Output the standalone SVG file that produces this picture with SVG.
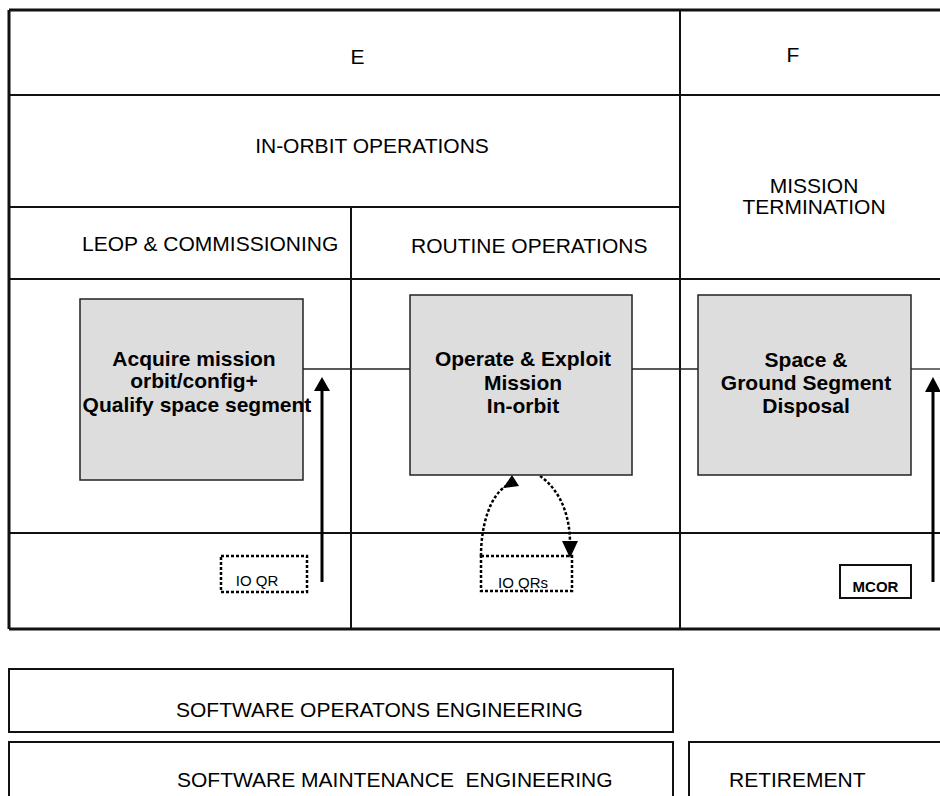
<svg xmlns="http://www.w3.org/2000/svg" width="940" height="796" viewBox="0 0 940 796">
<style>
text{font-family:"Liberation Sans",Arial,sans-serif;fill:#000}
.t{font-size:21px}
.b{font-size:21px;font-weight:bold;text-anchor:middle}
.s{font-size:15px}
.grid{stroke:#111;stroke-width:2;fill:none}
.outer{stroke:#111;stroke-width:3;fill:none}
.box{fill:#dddddd;stroke:#222;stroke-width:1.5}
.conn{stroke:#222;stroke-width:1.3;fill:none}
.arr{stroke:#000;stroke-width:3;fill:none}
.dot{stroke:#000;stroke-width:2.5;fill:none;stroke-dasharray:3 2}
.lane{fill:#fff;stroke:#111;stroke-width:2}
</style>
<rect width="940" height="796" fill="#fff"/>
<g id="table">
<line class="outer" x1="9" y1="10" x2="940" y2="10"/>
<line class="outer" x1="9" y1="10" x2="9" y2="629"/>
<line class="outer" x1="9" y1="629" x2="940" y2="629"/>
<line class="grid" x1="9" y1="95" x2="940" y2="95"/>
<line class="grid" x1="9" y1="207" x2="680" y2="207"/>
<line class="grid" x1="9" y1="279" x2="940" y2="279"/>
<line class="grid" x1="9" y1="533" x2="940" y2="533"/>
<line class="grid" x1="680" y1="10" x2="680" y2="629"/>
<line class="grid" x1="351" y1="207" x2="351" y2="629"/>
<text class="t" x="357.5" y="64" text-anchor="middle">E</text>
<text class="t" x="793" y="62" text-anchor="middle">F</text>
<text class="t" x="372" y="153" text-anchor="middle">IN-ORBIT OPERATIONS</text>
<text class="t" x="814" y="193" text-anchor="middle">MISSION</text>
<text class="t" x="814" y="214" text-anchor="middle">TERMINATION</text>
<text class="t" x="82" y="251">LEOP &amp; COMMISSIONING</text>
<text class="t" x="411" y="253">ROUTINE OPERATIONS</text>
</g>
<g id="connectors">
<line class="conn" x1="303" y1="369" x2="410" y2="369"/>
<line class="conn" x1="632" y1="369" x2="698" y2="369"/>
<line class="conn" x1="911" y1="369" x2="940" y2="369"/>
<line class="arr" x1="322" y1="582" x2="322" y2="390"/>
<path d="M322,377 L314,391 L330,391 Z" fill="#000"/>
<line class="arr" x1="933" y1="582" x2="933" y2="390"/>
<path d="M933,377 L925,392 L941,392 Z" fill="#000"/>
<path class="dot" d="M481,556 C481,525 490,496 506,486"/>
<path d="M512,475 L503,488 L519,486 Z" fill="#000"/>
<path class="dot" d="M540,476 C560,490 570,515 570,543"/>
<path d="M570,558 L562,541 L578,541 Z" fill="#000"/>
</g>
<g id="node-acquire">
<rect class="box" x="80" y="299" width="223" height="181"/>
<text class="b" x="194" y="366">Acquire mission</text>
<text class="b" x="194" y="388">orbit/config+</text>
<text class="b" x="197" y="412">Qualify space segment</text>
</g>
<g id="node-operate">
<rect class="box" x="410" y="295" width="222" height="180"/>
<text class="b" x="523" y="366">Operate &amp; Exploit</text>
<text class="b" x="523" y="390">Mission</text>
<text class="b" x="523" y="413">In-orbit</text>
</g>
<g id="node-disposal">
<rect class="box" x="698" y="295" width="213" height="180"/>
<text class="b" x="806" y="367">Space &amp;</text>
<text class="b" x="806" y="390">Ground Segment</text>
<text class="b" x="806" y="413">Disposal</text>
</g>
<g id="node-ioqr">
<rect class="dot" x="221" y="556" width="86" height="36" stroke-width="2"/>
<text class="s" x="257" y="586" text-anchor="middle">IO QR</text>
</g>
<g id="node-ioqrs">
<rect class="dot" x="481" y="556" width="91" height="35" stroke-width="2"/>
<text class="s" x="523" y="588" text-anchor="middle">IO QRs</text>
</g>
<g id="node-mcor">
<rect x="840" y="565" width="71" height="33" fill="#fff" stroke="#111" stroke-width="2"/>
<text class="s" x="875.5" y="592" text-anchor="middle" font-weight="bold">MCOR</text>
</g>
<g id="node-swops">
<rect class="lane" x="9" y="669" width="664" height="63"/>
<text class="t" x="176" y="717">SOFTWARE OPERATONS ENGINEERING</text>
</g>
<g id="node-swmaint">
<rect class="lane" x="9" y="742" width="664" height="70"/>
<text class="t" x="177" y="787" xml:space="preserve">SOFTWARE MAINTENANCE  ENGINEERING</text>
</g>
<g id="node-retire">
<rect class="lane" x="689" y="742" width="270" height="70"/>
<text class="t" x="729" y="787">RETIREMENT</text>
</g>
</svg>
